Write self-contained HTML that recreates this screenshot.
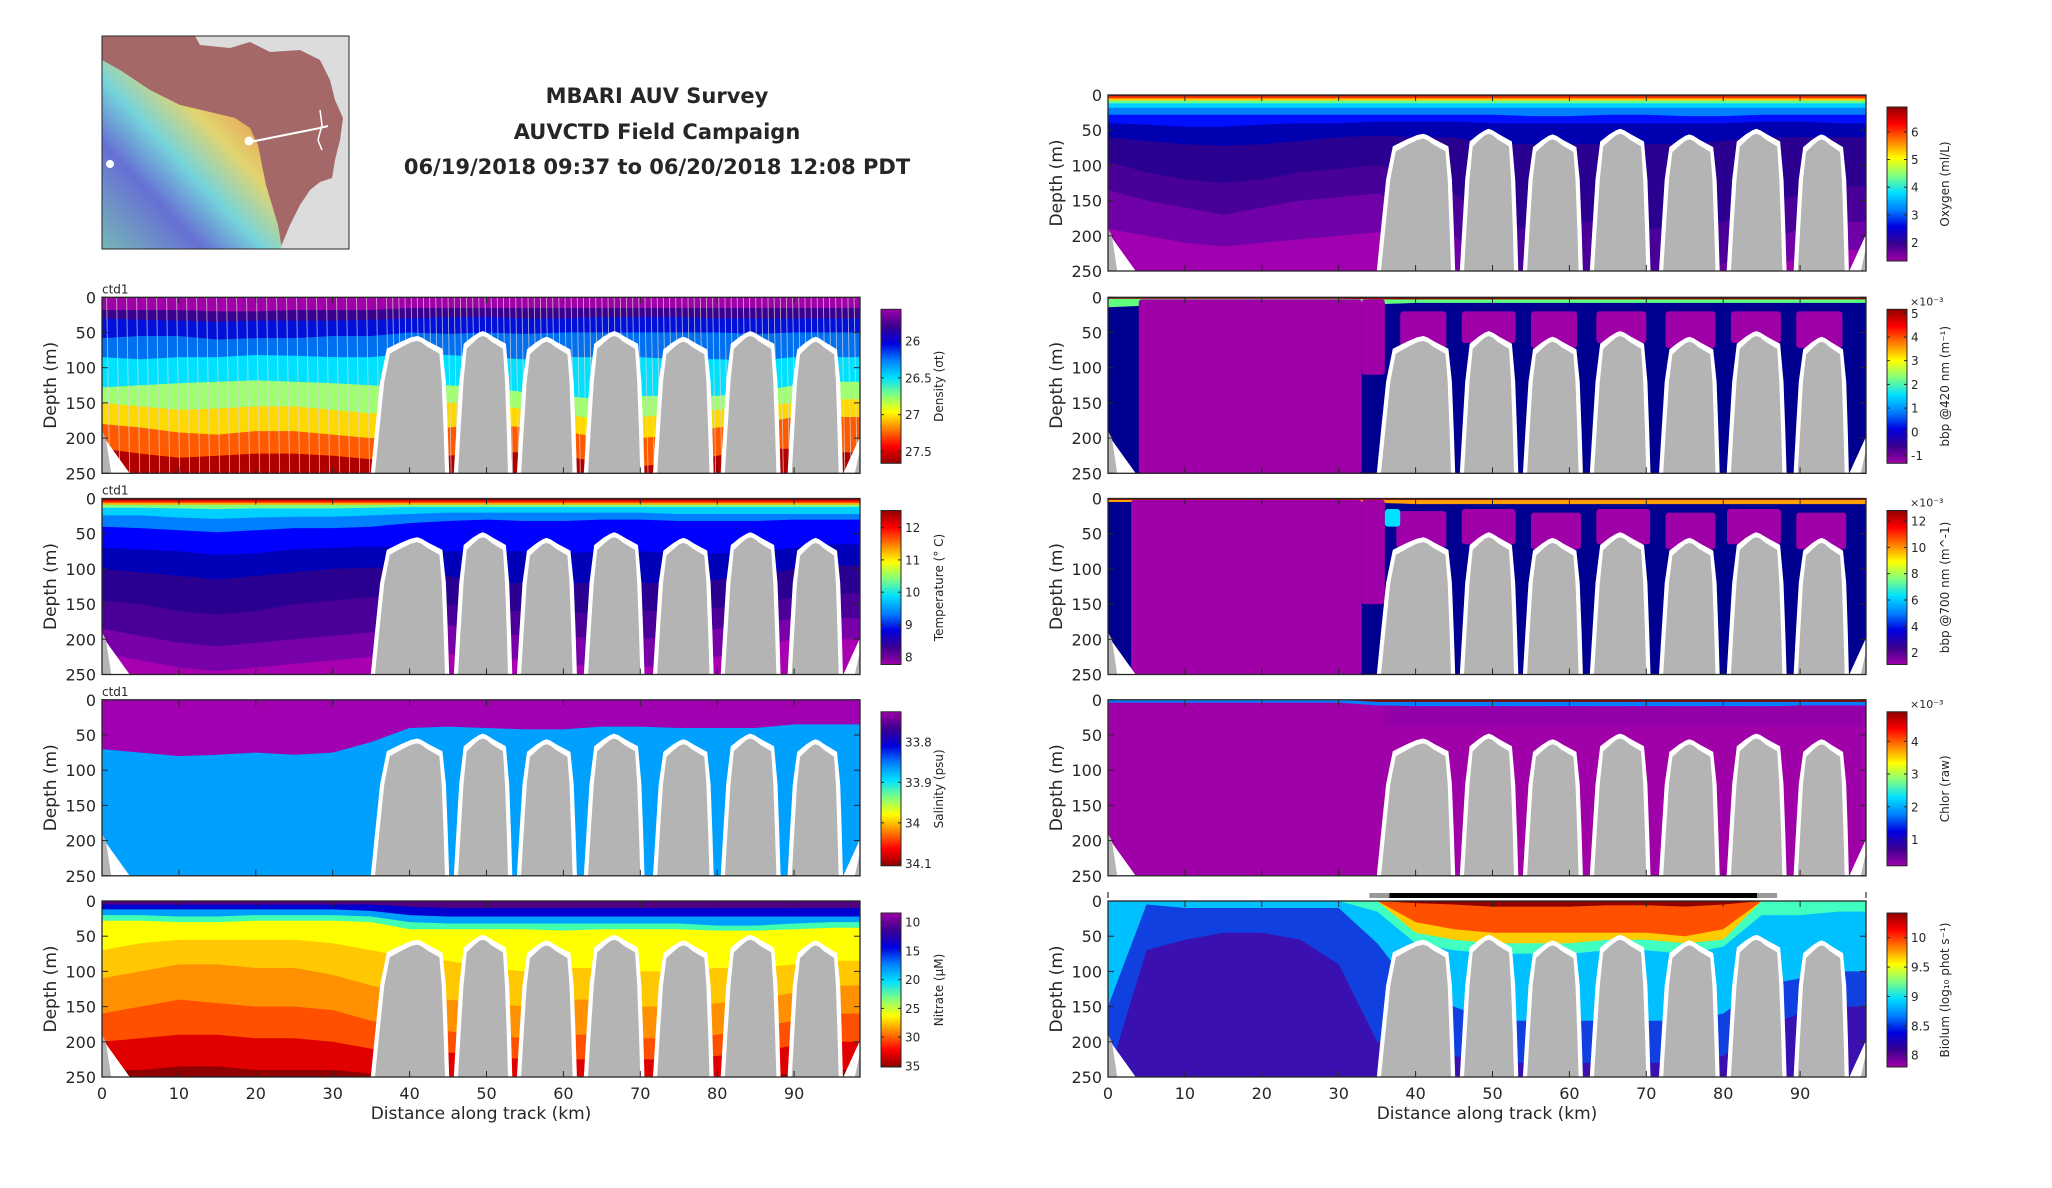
<!DOCTYPE html>
<html><head><meta charset="utf-8"><title>MBARI AUV Survey</title>
<style>
html,body{margin:0;padding:0;background:#fff;}
svg{display:block;}
text{font-family:"DejaVu Sans","Liberation Sans",sans-serif;fill:#262626;}
</style></head>
<body>
<svg id="fig" xmlns="http://www.w3.org/2000/svg" width="2052" height="1188" viewBox="0 0 2052 1188">
<defs id="defs"></defs>
<rect x="0" y="0" width="2052" height="1188" fill="#fff"/>
<g>
 <defs>
  <linearGradient id="rb" x1="1" y1="0" x2="0" y2="1">
   <stop offset="0" stop-color="#e05050"/><stop offset="0.2" stop-color="#f4a050"/>
   <stop offset="0.38" stop-color="#e8e070"/><stop offset="0.55" stop-color="#70e0e8"/>
   <stop offset="0.72" stop-color="#6070e0"/><stop offset="1" stop-color="#70c0c0"/>
  </linearGradient>
 </defs>
 <rect x="102" y="36" width="247" height="213" fill="#dcdcdc"/>
 <polygon points="102,36 195,36 200,45 230,48 250,42 270,52 300,50 320,60 330,80 335,100 343,118 340,140 335,160 332,178 320,182 310,190 300,205 290,225 280,249 102,249" fill="#a46868"/>
 <polygon points="102,60 120,70 150,90 180,105 210,112 235,118 250,128 258,145 262,165 266,185 272,205 278,225 282,249 102,249" fill="url(#rb)" opacity="0.9"/>
 <polyline points="250,142 320,128 328,126" stroke="#fff" stroke-width="2" fill="none"/>
 <circle cx="249" cy="141" r="4.5" fill="#fff"/>
 <circle cx="110" cy="164" r="4" fill="#fff"/>
 <polyline points="320,110 322,125 318,140 322,150" stroke="#fff" stroke-width="1.5" fill="none"/>
 <rect x="102" y="36" width="247" height="213" fill="none" stroke="#262626" stroke-width="1"/>
</g>
<g font-weight="bold" font-size="21" text-anchor="middle">
 <text x="657" y="103">MBARI AUV Survey</text>
 <text x="657" y="139">AUVCTD Field Campaign</text>
 <text x="657" y="174">06/19/2018 09:37 to 06/20/2018 12:08 PDT</text>
</g>
</svg>
<script>
// ---------- shared distance grid (km) ----------
const D = [0,5,10,15,20,25,30,35,40,45,50,55,60,65,70,75,80,85,90,95,99];

// ---------- bathymetry (seamounts) ----------
const smLeft  = [35.5,46.3,54.5,63.2,72.2,81.0,89.7];
const smPeak  = [41.0,49.5,57.8,66.6,75.6,84.3,92.8];
const smRight = [44.6,52.8,61.2,70.0,79.0,87.7,95.8];
const smDepth = [62,55,63,55,63,55,63];

// ---------- density ----------
const densityColors = ['#a000a8','#3a0090','#0010d8','#0070f0','#00e0ff','#a0ff70','#ffd800','#ff5a00','#b00000'];
const densityTops = [
 [0,0,0,0,0,0,0,0,0,0,0,0,0,0,0,0,0,0,0,0,0],
 [18,18,18,20,20,18,18,18,15,15,15,15,15,15,15,15,15,15,15,15,15],
 [30,32,33,35,33,33,33,32,30,28,28,30,30,28,28,28,30,30,30,30,30],
 [58,55,55,60,58,58,55,55,50,52,50,52,50,50,50,50,50,52,50,50,50],
 [85,88,85,85,82,83,85,85,80,82,85,88,85,85,85,88,88,90,85,85,85],
 [128,125,122,120,118,120,122,125,128,125,128,135,140,145,140,140,140,135,125,120,120],
 [150,155,160,158,155,155,160,165,160,150,150,160,165,175,170,165,160,155,150,145,145],
 [180,185,192,195,190,190,195,200,195,185,180,185,190,200,200,195,185,180,170,170,170],
 [215,222,228,225,222,222,225,230,235,225,220,220,225,235,240,235,225,215,215,220,220]
];
const densityTicks = [26,26.5,27,27.5];

// ---------- temperature ----------
const tempColors = ['#a00000','#ff2000','#ffb000','#80ff80','#00d0ff','#0080ff','#0000ff','#0000b8','#2a0090','#4a0098','#7800a8','#a800b0'];
const tempTops = [
 [0,0,0,0,0,0,0,0,0,0,0,0,0,0,0,0,0,0,0,0,0],
 [3,3,3,3,3,3,3,3,3,3,3,3,3,3,3,3,3,3,3,3,3],
 [6,6,6,6,6,6,6,6,6,6,6,6,6,6,6,6,6,6,6,6,6],
 [9,9,9,9,9,9,9,9,9,9,9,9,9,9,9,9,9,9,9,9,9],
 [13,13,14,15,14,14,14,13,12,12,12,12,12,12,12,12,12,12,12,12,12],
 [24,24,27,29,27,26,26,24,22,20,20,20,20,20,20,22,22,22,22,22,22],
 [40,42,45,48,45,42,42,40,35,32,30,32,32,30,30,32,32,32,30,30,30],
 [70,72,75,80,78,72,70,68,70,75,75,75,78,75,75,78,78,75,70,65,65],
 [100,105,110,115,110,105,100,98,100,110,120,120,120,120,120,120,115,110,100,95,95],
 [145,150,160,165,160,150,145,140,140,150,160,160,160,165,160,160,155,150,140,135,135],
 [185,195,205,210,205,200,195,190,185,180,190,195,195,200,200,195,185,180,170,170,170],
 [220,230,240,245,240,235,230,225,220,220,225,230,235,240,240,235,225,210,200,200,200]
];
const tempTicks = [12,11,10,9,8];

// ---------- salinity ----------
const salColors = ['#a000b0','#00a0ff'];
const salTops = [
 [0,0,0,0,0,0,0,0,0,0,0,0,0,0,0,0,0,0,0,0,0],
 [70,75,80,78,75,78,75,60,40,38,40,42,42,38,38,40,40,40,35,35,35]
];
const salTicks = [33.8,33.9,34,34.1];

// ---------- nitrate ----------
const nitColors = ['#500080','#0000d0','#00a0ff','#40ffb0','#ffff00','#ffc800','#ff9000','#ff5000','#e00000','#900000'];
const nitTops = [
 [0,0,0,0,0,0,0,0,0,0,0,0,0,0,0,0,0,0,0,0,0],
 [5,5,5,5,5,5,5,5,8,10,10,10,10,10,10,10,10,10,10,10,10],
 [12,12,12,12,12,12,12,14,20,22,22,22,22,22,22,22,22,22,22,22,22],
 [20,20,22,22,20,20,20,22,30,32,32,32,32,32,32,32,35,35,32,30,30],
 [28,28,30,30,28,28,28,30,40,40,40,40,42,40,40,40,42,42,40,38,38],
 [70,60,55,55,55,55,60,70,80,85,95,100,95,95,100,100,95,95,90,85,85],
 [110,100,90,90,95,95,105,120,130,140,145,150,140,140,150,150,145,140,130,120,120],
 [160,150,140,145,150,150,155,170,180,185,190,195,190,190,195,195,190,180,170,160,160],
 [200,195,190,190,195,195,200,210,215,215,220,225,225,225,225,225,220,215,205,200,200],
 [240,240,235,235,240,240,240,245,250,250,250,250,250,250,250,250,250,250,245,240,240]
];
const nitTicks = [10,15,20,25,30,35];

// ---------- oxygen ----------
const oxyColors = ['#a00000','#ff4000','#ffd000','#60ff90','#00d0ff','#0080ff','#0010ff','#0000b0','#2a0090','#480098','#7000a8','#a000b0'];
const oxyTops = [
 [0,0,0,0,0,0,0,0,0,0,0,0,0,0,0,0,0,0,0,0,0],
 [2,2,2,2,2,2,2,2,2,2,2,2,2,2,2,2,2,2,2,2,2],
 [5,5,5,5,5,5,5,5,5,5,5,5,5,5,5,5,5,5,5,5,5],
 [8,8,8,8,8,8,8,8,8,8,8,8,8,8,8,8,8,8,8,8,8],
 [12,12,12,12,12,12,12,12,12,12,12,12,12,12,12,12,12,12,12,12,12],
 [18,18,18,18,18,18,18,18,18,18,18,18,18,18,18,18,18,18,18,18,18],
 [28,28,28,28,28,28,28,28,28,28,28,30,30,28,28,30,30,28,28,28,28],
 [40,42,45,45,42,40,40,38,38,38,40,40,40,40,40,40,40,38,38,40,40],
 [60,65,70,72,70,65,60,58,60,60,70,70,70,70,70,70,65,60,60,60,60],
 [95,110,120,125,120,110,105,100,110,140,180,190,180,180,190,190,180,160,140,130,130],
 [135,150,160,170,160,150,145,140,160,200,250,250,250,250,250,250,240,210,190,180,180],
 [190,200,210,215,210,205,200,195,220,250,250,250,250,250,250,250,250,250,230,220,220]
];
const oxyTicks = [6,5,4,3,2];

// ---------- bbp 420 ----------
const b420Colors = ['#900000','#60ff80','#000090'];
const b420Tops = [
 [0,0,0,0,0,0,0,0,0,0,0,0,0,0,0,0,0,0,0,0,0],
 [2,2,2,2,2,2,2,3,3,3,3,3,3,3,3,3,3,3,3,3,3],
 [14,12,10,10,10,10,10,10,8,8,8,8,8,8,8,8,8,8,8,8,8]
];
const b420PatchX0 = [4,33,38,46,55,63.5,72.5,81,89.5];
const b420PatchX1 = [33,36,44,53,61,70,79,87.5,95.5];
const b420PatchY0 = [3,3,20,20,20,20,20,20,20];
const b420PatchY1 = [250,110,72,65,72,65,72,65,72];
const b420PatchColor = ['#a000a8','#a000a8','#a000a8','#a000a8','#a000a8','#a000a8','#a000a8','#a000a8','#a000a8'];
const b420Ticks = [5,4,3,2,1,0,-1];

// ---------- bbp 700 ----------
const b700Colors = ['#900000','#ffa000','#000090'];
const b700Tops = [
 [0,0,0,0,0,0,0,0,0,0,0,0,0,0,0,0,0,0,0,0,0],
 [2,2,2,2,2,2,2,2,2,2,2,2,2,2,2,2,2,2,2,2,2],
 [5,5,5,5,5,5,5,6,8,8,8,8,8,8,8,8,8,8,8,8,8]
];
const b700PatchX0 = [3,33,37.5,46,55,63.5,72.5,80.5,89.5,36];
const b700PatchX1 = [33,36,44,53,61.5,70.5,79,87.5,96,38];
const b700PatchY0 = [2,2,18,15,20,15,20,15,20,15];
const b700PatchY1 = [250,150,70,65,72,65,72,65,72,40];
const b700PatchColor = ['#a000a8','#a000a8','#a000a8','#a000a8','#a000a8','#a000a8','#a000a8','#a000a8','#a000a8','#00e0ff'];
const b700Ticks = [12,10,8,6,4,2];

// ---------- chlorophyll ----------
const chlColors = ['#a00000','#0080ff','#a000a8'];
const chlTops = [
 [0,0,0,0,0,0,0,0,0,0,0,0,0,0,0,0,0,0,0,0,0],
 [0,0,0,0,0,0,0,3,3,3,3,3,3,3,3,3,3,3,3,3,3],
 [4,4,4,4,4,4,4,8,9,10,9,10,9,10,9,10,9,10,8,8,8]
];
const chlPatchX0 = [36];
const chlPatchX1 = [98.6];
const chlPatchY0 = [9];
const chlPatchY1 = [38];
const chlPatchColor = ['#9400a8'];
const chlTicks = [4,3,2,1];

// ---------- bioluminescence ----------
const bioColors = ['#900000','#ff5000','#ffcc00','#40ffc0','#00c0ff','#1040e0','#3a10b0'];
const bioTops = [
 [0,0,0,0,0,0,0,0,0,0,0,0,0,0,0,0,0,0,0,0,0],
 [0,0,0,0,0,0,0,0,3,5,8,8,8,6,6,8,5,0,0,0,0],
 [0,0,0,0,0,0,0,0,30,40,45,45,45,45,45,50,40,0,0,0,0],
 [0,0,0,0,0,0,0,0,45,55,60,60,60,55,55,60,55,0,0,0,0],
 [0,0,0,0,0,0,0,15,60,70,75,75,75,70,70,75,65,20,20,15,15],
 [150,5,10,10,10,10,10,60,130,150,170,170,170,170,170,170,160,120,110,100,100],
 [250,70,55,45,45,55,90,200,220,220,230,230,230,230,230,230,220,180,160,150,150]
];
const bioTicks = [10,9.5,9,8.5,8];

const xTicks = [0,10,20,30,40,50,60,70,80,90];
const yTicks = [0,50,100,150,200,250];

// ---------- layout ----------
const NS = 'http://www.w3.org/2000/svg';
const svg = document.getElementById('fig');
const defs = document.getElementById('defs');
const PW = 758, PH = 176, KM = 7.69;
const jetUp = ['#a000a8','#3a0090','#0000e0','#0080ff','#00e0ff','#80ff80','#ffff00','#ff8000','#ff0000','#900000'];
const jetDown = jetUp.slice().reverse();

function mk(tag, attrs, parent){
  const e = document.createElementNS(NS, tag);
  for (const k in attrs) e.setAttribute(k, attrs[k]);
  (parent || svg).appendChild(e);
  return e;
}
function gradient(id, stops){
  const g = mk('linearGradient', {id:id, x1:0, y1:0, x2:0, y2:1}, defs);
  stops.forEach((c,i)=>mk('stop',{offset:i/(stops.length-1),'stop-color':c}, g));
}
gradient('gUp', jetUp);
gradient('gDown', jetDown);

function drawPanel(p){
  const xs = km => p.x + km*KM;
  const ys = d => p.y + d/250*PH;
  const g = mk('g', {});
  
  
  const cid = 'clip-' + p.name;
  const cp = mk('clipPath', {id:cid}, defs);
  mk('rect', {x:p.x, y:p.y, width:PW, height:PH}, cp);
  const plot = mk('g', {'clip-path':'url(#'+cid+')'}, g);
  
  
  p.tops.forEach((row, i) => {
    const pts = D.map((d,j)=> xs(d).toFixed(1)+','+ys(row[j]).toFixed(1));
    pts.push(xs(99)+','+ys(250), xs(0)+','+ys(250));
    const poly = mk('polygon', {points:pts.join(' '), fill:p.colors[i]}, plot);
    
    
  });
  if (p.px0) p.px0.forEach((x0,i)=>{
    const r = mk('rect', {x:xs(x0), y:ys(p.py0[i]), width:xs(p.px1[i])-xs(x0), height:ys(p.py1[i])-ys(p.py0[i]), fill:p.pc[i], rx:3}, plot);
    
    
  });
  if (p.lines){
    for (let k=0.6; k<98.5; k += (k<36 ? 1.3 : 0.8)){
      mk('line', {x1:xs(k), x2:xs(k+0.4), y1:ys(0), y2:ys(250), stroke:'#d8d8d8', 'stroke-width':0.9, opacity:0.75}, plot);
    }
  }
  smLeft.forEach((L,i)=>{
    const P = smPeak[i], R = smRight[i], d = smDepth[i];
    const a = P-L, b = R-P;
    const shape = (o, dd) => [
      [L-o,250],[L+0.1*a-o,190],[L+0.22*a-o,120],[L+0.35*a-o*0.7,dd+18],
      [P-0.35*a-o*0.4,dd+8],[P-0.15*a,dd+2],[P,dd],[P+0.15*b,dd+2],[P+0.35*b+o*0.4,dd+8],
      [R-0.2*b+o*0.7,dd+18],[R-0.12*b+o,120],[R-0.05*b+o,190],[R+o,250]
    ].map(q=>xs(q[0]).toFixed(1)+','+ys(q[1]).toFixed(1)).join(' ');
    const h = mk('polygon', {points:shape(0.55, d-7), fill:'#ffffff'}, plot);
    
    
    const s = mk('polygon', {points:shape(0, d), fill:'#b4b4b4'}, plot);
    
    
  });
  mk('polygon', {points:[xs(0)+','+ys(195), xs(3.6)+','+ys(250), xs(0)+','+ys(250)].join(' '), fill:'#fff'}, plot);
  mk('polygon', {points:[xs(0)+','+ys(190), xs(0.5)+','+ys(200), xs(1.2)+','+ys(250), xs(0)+','+ys(250)].join(' '), fill:'#b4b4b4'}, plot);
  mk('polygon', {points:[xs(96.4)+','+ys(250), xs(98.7)+','+ys(195), xs(98.7)+','+ys(250)].join(' '), fill:'#fff'}, plot);
  mk('polygon', {points:[xs(97.9)+','+ys(250), xs(98.7)+','+ys(210), xs(98.7)+','+ys(250)].join(' '), fill:'#b4b4b4'}, plot);
  const fr = mk('rect', {x:p.x, y:p.y, width:PW, height:PH, fill:'none', stroke:'#262626', 'stroke-width':1.3}, g);
  
  
  xTicks.forEach(t=>{
    mk('line', {x1:xs(t), x2:xs(t), y1:p.y, y2:p.y+6, stroke:'#262626'}, g);
    mk('line', {x1:xs(t), x2:xs(t), y1:p.y+PH, y2:p.y+PH-6, stroke:'#262626'}, g);
    if (p.bottom){
      const tl = mk('text', {x:xs(t), y:p.y+PH+22, 'font-size':16, 'text-anchor':'middle'}, g);
      tl.textContent = t;
      
      
    }
  });
  yTicks.forEach(t=>{
    mk('line', {x1:p.x, x2:p.x+6, y1:ys(t), y2:ys(t), stroke:'#262626'}, g);
    mk('line', {x1:p.x+PW, x2:p.x+PW-6, y1:ys(t), y2:ys(t), stroke:'#262626'}, g);
    const tl = mk('text', {x:p.x-6, y:ys(t)+6, 'font-size':16, 'text-anchor':'end'}, g);
    tl.textContent = t;
    
    
  });
  const yl = mk('text', {x:0, y:0, 'font-size':17, 'text-anchor':'middle', transform:'translate('+(p.x-46)+','+(p.y+PH/2)+') rotate(-90)'}, g);
  yl.textContent = 'Depth (m)';
  
  
  if (p.ctd){
    const c = mk('text', {x:p.x, y:p.y-4, 'font-size':12}, g);
    c.textContent = 'ctd1';
    
    
  }
  if (p.bottom){
    const xt = mk('text', {x:p.x+379, y:p.y+PH+42, 'font-size':17, 'text-anchor':'middle'}, g);
    xt.textContent = 'Distance along track (km)';
    
    
  }
  const bx = p.x + PW + 21, by = p.y + 12, bw = 20, bh = 154;
  const cb = mk('g', {}, g);
  
  
  mk('rect', {x:bx, y:by, width:bw, height:bh, fill:p.up ? 'url(#gUp)' : 'url(#gDown)', stroke:'#262626', 'stroke-width':1}, cb);
  p.ticks.forEach(v=>{
    const ty = by + (v - p.cTop)/(p.cBot - p.cTop)*bh;
    mk('line', {x1:bx, x2:bx+3, y1:ty, y2:ty, stroke:'#262626'}, cb);
    mk('line', {x1:bx+bw, x2:bx+bw-3, y1:ty, y2:ty, stroke:'#262626'}, cb);
    const tl = mk('text', {x:bx+bw+4, y:ty+4.5, 'font-size':12}, cb);
    tl.textContent = v;
    
    
  });
  if (p.exp){
    const e = mk('text', {x:bx+bw+3, y:by-4, 'font-size':11}, cb);
    e.textContent = '×10⁻³';
    
    
  }
  const cl = mk('text', {x:0, y:0, 'font-size':12, 'text-anchor':'middle', transform:'translate('+(bx+bw+42)+','+(by+bh/2)+') rotate(-90)'}, cb);
  cl.textContent = p.label;
  
  
  if (p.track){
    const tr = mk('rect', {x:xs(34), y:p.y-8, width:xs(87)-xs(34), height:5, fill:'#000'}, g);
    
    
    mk('rect', {x:xs(34), y:p.y-8, width:20, height:5, fill:'#999'}, g);
    mk('rect', {x:xs(87)-20, y:p.y-8, width:20, height:5, fill:'#999'}, g);
    mk('line', {x1:p.x, x2:p.x, y1:p.y-9, y2:p.y-3, stroke:'#000'}, g);
    mk('line', {x1:p.x+PW, x2:p.x+PW, y1:p.y-9, y2:p.y-3, stroke:'#000'}, g);
  }
}

const LX = 102, RX = 1108;
drawPanel({name:'density', x:LX, y:297.3, colors:densityColors, tops:densityTops, ticks:densityTicks, cTop:25.57, cBot:27.66, up:true, label:'Density (σt)', ctd:true, lines:true});
drawPanel({name:'temperature', x:LX, y:498.5, colors:tempColors, tops:tempTops, ticks:tempTicks, cTop:12.53, cBot:7.76, up:false, label:'Temperature (° C)', ctd:true});
drawPanel({name:'salinity', x:LX, y:699.8, colors:salColors, tops:salTops, ticks:salTicks, cTop:33.726, cBot:34.106, up:true, label:'Salinity (psu)', ctd:true});
drawPanel({name:'nitrate', x:LX, y:901, colors:nitColors, tops:nitTops, ticks:nitTicks, cTop:8.4, cBot:35.2, up:true, label:'Nitrate (μM)', bottom:true});
drawPanel({name:'oxygen', x:RX, y:95, colors:oxyColors, tops:oxyTops, ticks:oxyTicks, cTop:6.9, cBot:1.33, up:false, label:'Oxygen (ml/L)'});
drawPanel({name:'bbp420', x:RX, y:297.3, colors:b420Colors, tops:b420Tops, px0:b420PatchX0, px1:b420PatchX1, py0:b420PatchY0, py1:b420PatchY1, pc:b420PatchColor, ticks:b420Ticks, cTop:5.17, cBot:-1.33, up:false, exp:true, label:'bbp @420 nm (m⁻¹)'});
drawPanel({name:'bbp700', x:RX, y:498.5, colors:b700Colors, tops:b700Tops, px0:b700PatchX0, px1:b700PatchX1, py0:b700PatchY0, py1:b700PatchY1, pc:b700PatchColor, ticks:b700Ticks, cTop:12.8, cBot:1.1, up:false, exp:true, label:'bbp @700 nm (m^-1)'});
drawPanel({name:'chlorophyll', x:RX, y:699.8, colors:chlColors, tops:chlTops, px0:chlPatchX0, px1:chlPatchX1, py0:chlPatchY0, py1:chlPatchY1, pc:chlPatchColor, ticks:chlTicks, cTop:4.9, cBot:0.2, up:false, exp:true, label:'Chlor (raw)'});
drawPanel({name:'bioluminescence', x:RX, y:901, colors:bioColors, tops:bioTops, ticks:bioTicks, cTop:10.42, cBot:7.8, up:false, label:'Biolum (log₁₀ phot s⁻¹)', bottom:true, track:true});
</script>
</body></html>
